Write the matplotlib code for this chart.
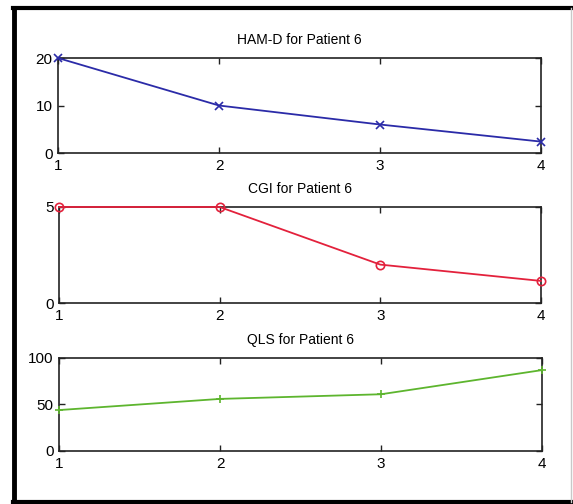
import matplotlib
matplotlib.use("Agg")
import matplotlib.pyplot as plt
from matplotlib.lines import Line2D

plt.rcParams['font.family'] = ['Liberation Sans', 'DejaVu Sans']

visits = [1, 2, 3, 4]
ham_d = [20, 10, 6, 2.4]
cgi = [5, 5, 2, 1.15]
qls = [44, 56, 61, 87]

titles = ["HAM-D for Patient 6", "CGI for Patient 6", "QLS for Patient 6"]
ylims = [(0, 20), (0, 5), (0, 100)]
yticks = [[0, 10, 20], [0, 5], [0, 50, 100]]
colors = ["#2b2ba8", "#e3213c", "#5db52e"]
markers = ["x", "o", "+"]
series = [ham_d, cgi, qls]

fig = plt.figure(figsize=(5.73, 5.04), dpi=100)
fig.patch.set_facecolor("white")

# axes rectangles in figure fractions
rects = [
    (0.1012, 0.6964, 0.843, 0.1885),
    (0.1030, 0.3988, 0.841, 0.1905),
    (0.1030, 0.1052, 0.843, 0.1845),
]

for rect, title, yl, yt, col, mk, vals in zip(rects, titles, ylims, yticks,
                                                colors, markers, series):
    ax = fig.add_axes(rect)
    mfc = "none" if mk == "o" else col
    ax.plot(visits, vals, color=col, lw=1.3, marker=mk, markersize=6,
            markerfacecolor=mfc, markeredgecolor=col, markeredgewidth=1.2,
            clip_on=False, zorder=3)
    ax.set_xlim(1, 4)
    ax.set_ylim(*yl)
    ax.set_xticks(visits)
    ax.set_yticks(yt)
    ax.tick_params(direction="in", length=4, width=1, top=True, right=True,
                   labelsize=11, color="#222222")
    ax.tick_params(axis="x", pad=4)
    ax.tick_params(axis="y", pad=4)
    for s in ax.spines.values():
        s.set_linewidth(1.2)
        s.set_color("#222222")
    ax.set_title(title, fontsize=10, pad=10)

# outer frame around the panels
fig.add_artist(Line2D([0.024, 0.024], [0.004, 0.984], transform=fig.transFigure,
                      color="black", lw=3.5))
fig.add_artist(Line2D([0.022, 1.0], [0.984, 0.984], transform=fig.transFigure,
                      color="black", lw=3))
fig.add_artist(Line2D([0.022, 1.0], [0.004, 0.004], transform=fig.transFigure,
                      color="black", lw=3))
fig.add_artist(Line2D([0.997, 0.997], [0.004, 0.984], transform=fig.transFigure,
                      color="#c8c8c8", lw=1))

fig.savefig("out.png", dpi=100)
